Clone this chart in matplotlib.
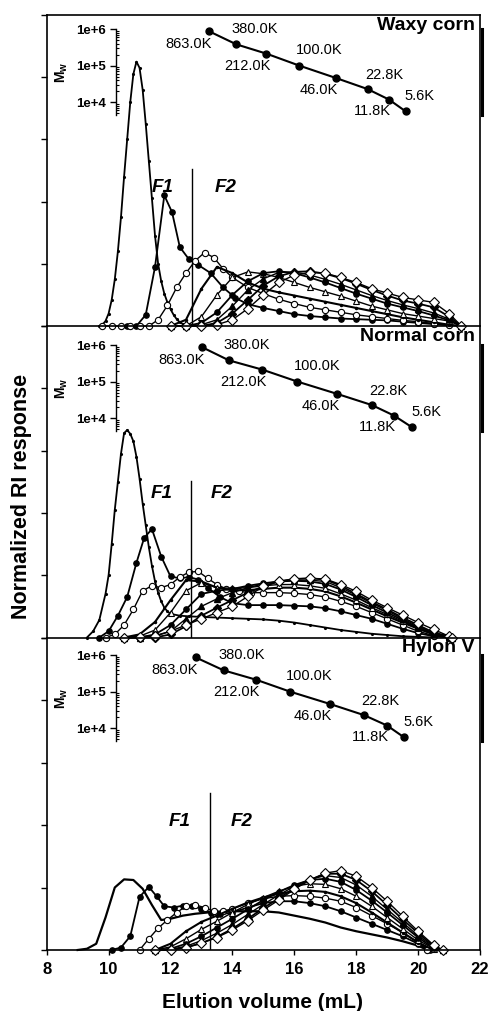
import matplotlib
matplotlib.use("Agg")
import matplotlib.pyplot as plt
from matplotlib.ticker import LogLocator, FixedLocator, NullFormatter

plt.rcParams['font.family'] = ['Liberation Sans', 'DejaVu Sans']
plt.rcParams['mathtext.fontset'] = 'custom'
plt.rcParams['mathtext.rm'] = 'Liberation Sans'
plt.rcParams['mathtext.bf'] = 'Liberation Sans:bold'

# ---------------- data ----------------
panel_names = ['Waxy corn', 'Normal corn', 'Hylon V']

mw_values = [863000, 380000, 212000, 100000, 46000, 22800, 11800, 5600]
mw_labels = ['863.0K', '380.0K', '212.0K', '100.0K', '46.0K', '22.8K', '11.8K', '5.6K']
waxy_cal_x = [13.25, 14.13, 15.10, 16.16, 17.34, 18.37, 19.06, 19.60]
normal_cal_x = [13.03, 13.89, 14.97, 16.10, 17.39, 18.51, 19.22, 19.81]
hylon_cal_x = [12.81, 13.72, 14.76, 15.86, 17.15, 18.25, 19.00, 19.55]

fraction_cut = [12.70, 12.65, 13.28]

# Waxy corn
waxy_a_x = [9.7, 9.8, 9.9, 10.0, 10.1, 10.2, 10.3, 10.4, 10.5, 10.6, 10.7, 10.8, 10.9, 11.0, 11.1,
            11.2, 11.3, 11.4, 11.5, 11.6, 11.7, 11.8, 11.9, 12.0, 12.1, 12.2, 12.3, 12.4, 12.5, 12.6]
waxy_a_y = [0.0, 0.02, 0.08, 0.2, 0.42, 0.75, 1.2, 1.75, 2.4, 3.0, 3.6, 4.05, 4.25, 4.15, 3.8,
            3.25, 2.65, 2.05, 1.45, 1.0, 0.72, 0.52, 0.38, 0.27, 0.18, 0.11, 0.06, 0.03, 0.01, 0.0]
waxy_b_x = [10.6, 10.9, 11.2, 11.5, 11.8, 12.05, 12.3, 12.6, 12.9, 13.3, 13.7, 14.1, 14.5, 15.0, 15.5,
            16.0, 16.5, 17.0, 17.5, 18.0, 18.5, 19.0, 19.5, 20.0, 20.5, 21.0]
waxy_b_y = [0.0, 0.0, 0.18, 0.95, 2.1, 1.83, 1.27, 1.07, 0.98, 0.85, 0.62, 0.45, 0.35, 0.29, 0.24,
            0.19, 0.16, 0.14, 0.12, 0.11, 0.1, 0.09, 0.07, 0.05, 0.03, 0.01]
waxy_c_x = [9.8, 10.1, 10.4, 10.7, 11.0, 11.3, 11.6, 11.9, 12.2, 12.5, 12.8, 13.1, 13.4, 13.7, 14.0,
            14.5, 15.0, 15.5, 16.0, 16.5, 17.0, 17.5, 18.0, 18.5, 19.0, 19.5, 20.0, 20.5, 21.0]
waxy_c_y = [0, 0, 0, 0, 0, 0, 0.1, 0.33, 0.62, 0.85, 1.05, 1.18, 1.1, 0.92, 0.78,
            0.62, 0.52, 0.43, 0.36, 0.3, 0.26, 0.22, 0.18, 0.15, 0.12, 0.09, 0.07, 0.04, 0.01]
waxy_grid = [12.0, 12.5, 13.0, 13.5, 14.0, 14.5, 15.0, 15.5, 16.0, 16.5, 17.0, 17.5, 18.0, 18.5,
             19.0, 19.5, 20.0, 20.5, 21.0, 21.4]
waxy_d = [0, 0.1, 0.6, 0.95, 0.85, 0.7, 0.6, 0.54, 0.49, 0.44, 0.39, 0.34, 0.29, 0.24, 0.19, 0.14, 0.1, 0.06, 0.02, 0]
waxy_e = [0, 0, 0.15, 0.5, 0.78, 0.87, 0.84, 0.78, 0.7, 0.62, 0.55, 0.48, 0.4, 0.32, 0.26, 0.2, 0.16, 0.12, 0.08, 0]
waxy_f = [0, 0, 0.05, 0.22, 0.5, 0.72, 0.85, 0.88, 0.85, 0.78, 0.7, 0.61, 0.52, 0.44, 0.36, 0.3, 0.24, 0.17, 0.09, 0]
waxy_g = [0, 0, 0.02, 0.1, 0.32, 0.58, 0.76, 0.86, 0.87, 0.82, 0.75, 0.67, 0.58, 0.49, 0.41, 0.34, 0.28, 0.21, 0.11, 0]
waxy_h = [0, 0, 0, 0.05, 0.2, 0.42, 0.65, 0.8, 0.87, 0.88, 0.84, 0.77, 0.68, 0.58, 0.49, 0.41, 0.36, 0.3, 0.15, 0]
waxy_i = [0, 0, 0, 0.02, 0.1, 0.28, 0.5, 0.7, 0.82, 0.86, 0.85, 0.78, 0.7, 0.6, 0.53, 0.46, 0.42, 0.38, 0.2, 0]

# Normal corn
normal_a_x = [9.3, 9.5, 9.7, 9.9, 10.0, 10.1, 10.2, 10.3, 10.4, 10.5, 10.6, 10.7, 10.8, 10.9, 11.0,
              11.1, 11.2, 11.3, 11.4, 11.5, 11.6, 11.7, 11.8, 11.9, 12.0, 12.3, 12.6, 13.0, 13.5,
              14.0, 14.5, 15.0, 15.5, 16.0, 16.5, 17.0, 17.5, 18.0, 18.5, 19.0, 19.5, 20.0, 20.5]
normal_a_y = [0, 0.1, 0.28, 0.7, 1.0, 1.5, 2.05, 2.5, 2.95, 3.28, 3.33, 3.27, 3.15, 2.9, 2.55,
              2.15, 1.8, 1.45, 1.15, 0.9, 0.72, 0.58, 0.48, 0.42, 0.38, 0.35, 0.34, 0.33, 0.32,
              0.31, 0.3, 0.29, 0.27, 0.24, 0.2, 0.16, 0.12, 0.09, 0.06, 0.04, 0.02, 0.01, 0]
normal_b_x = [9.7, 10.0, 10.3, 10.6, 10.9, 11.15, 11.4, 11.7, 12.0, 12.3, 12.6, 12.9, 13.2, 13.6, 14.0,
              14.5, 15.0, 15.5, 16.0, 16.5, 17.0, 17.5, 18.0, 18.5, 19.0, 19.5, 20.0, 20.5, 21.0]
normal_b_y = [0, 0.1, 0.35, 0.65, 1.2, 1.6, 1.74, 1.3, 0.98, 0.95, 0.97, 0.93, 0.8, 0.65, 0.55,
              0.52, 0.52, 0.52, 0.51, 0.5, 0.47, 0.42, 0.36, 0.3, 0.22, 0.14, 0.07, 0.02, 0]
normal_c_x = [9.9, 10.2, 10.5, 10.8, 11.1, 11.4, 11.7, 12.0, 12.3, 12.6, 12.9, 13.2, 13.5, 13.8, 14.2,
              14.6, 15.0, 15.5, 16.0, 16.5, 17.0, 17.5, 18.0, 18.5, 19.0, 19.5, 20.0, 20.5, 21.0]
normal_c_y = [0, 0.05, 0.2, 0.45, 0.75, 0.83, 0.8, 0.85, 0.97, 1.05, 1.06, 0.95, 0.85, 0.78, 0.74,
              0.72, 0.72, 0.72, 0.71, 0.69, 0.65, 0.58, 0.5, 0.4, 0.3, 0.2, 0.1, 0.03, 0]
normal_grid = [10.5, 11.0, 11.5, 12.0, 12.5, 13.0, 13.5, 14.0, 14.5, 15.0, 15.5, 16.0, 16.5, 17.0,
               17.5, 18.0, 18.5, 19.0, 19.5, 20.0, 20.5, 21.0, 21.1]
normal_d = [0, 0.05, 0.25, 0.6, 0.92, 0.9, 0.8, 0.76, 0.76, 0.78, 0.8, 0.8, 0.78, 0.74, 0.66, 0.56, 0.45, 0.34, 0.24, 0.14, 0.05, 0, 0]
normal_e = [0, 0.02, 0.12, 0.4, 0.75, 0.88, 0.8, 0.79, 0.8, 0.83, 0.85, 0.85, 0.83, 0.79, 0.7, 0.6, 0.48, 0.37, 0.26, 0.15, 0.06, 0, 0]
normal_f = [0, 0, 0.05, 0.2, 0.45, 0.7, 0.75, 0.78, 0.83, 0.87, 0.9, 0.91, 0.9, 0.86, 0.77, 0.65, 0.52, 0.4, 0.28, 0.16, 0.06, 0, 0]
normal_g = [0, 0, 0.02, 0.1, 0.3, 0.5, 0.62, 0.72, 0.8, 0.86, 0.9, 0.92, 0.92, 0.9, 0.8, 0.68, 0.55, 0.43, 0.3, 0.18, 0.07, 0.01, 0]
normal_h = [0, 0, 0, 0.05, 0.18, 0.35, 0.48, 0.6, 0.72, 0.82, 0.9, 0.94, 0.95, 0.93, 0.83, 0.7, 0.57, 0.45, 0.32, 0.2, 0.08, 0.02, 0]
normal_i = [0, 0.01, 0.03, 0.1, 0.2, 0.3, 0.4, 0.5, 0.66, 0.82, 0.9, 0.94, 0.95, 0.94, 0.85, 0.74, 0.6, 0.48, 0.36, 0.24, 0.13, 0.02, 0]

# Hylon V
hylon_a_x = [9.0, 9.3, 9.6, 9.9, 10.2, 10.5, 10.8, 11.1, 11.4, 11.7, 12.0, 12.4, 12.8, 13.2, 13.6,
             14.0, 14.5, 15.0, 15.5, 16.0, 16.5, 17.0, 17.5, 18.0, 18.5, 19.0, 19.5, 20.0, 20.3]
hylon_a_y = [0, 0.02, 0.1, 0.52, 1.0, 1.13, 1.12, 0.98, 0.72, 0.48, 0.5, 0.55, 0.58, 0.6, 0.61,
             0.62, 0.62, 0.62, 0.6, 0.55, 0.5, 0.44, 0.36, 0.3, 0.25, 0.2, 0.14, 0.07, 0]
hylon_b_x = [10.1, 10.4, 10.7, 11.0, 11.3, 11.55, 11.8, 12.1, 12.4, 12.7, 13.0, 13.3, 13.6, 14.0,
             14.5, 15.0, 15.5, 16.0, 16.5, 17.0, 17.5, 18.0, 18.5, 19.0, 19.5, 20.0, 20.4]
hylon_b_y = [0, 0.04, 0.22, 0.85, 1.01, 0.86, 0.7, 0.68, 0.71, 0.71, 0.66, 0.6, 0.57, 0.6,
             0.68, 0.75, 0.78, 0.78, 0.75, 0.7, 0.62, 0.52, 0.42, 0.32, 0.22, 0.1, 0]
hylon_c_x = [11.0, 11.3, 11.6, 11.9, 12.2, 12.5, 12.8, 13.1, 13.4, 13.7, 14.0, 14.5, 15.0, 15.5,
             16.0, 16.5, 17.0, 17.5, 18.0, 18.5, 19.0, 19.5, 20.0, 20.3]
hylon_c_y = [0, 0.18, 0.35, 0.48, 0.6, 0.7, 0.72, 0.68, 0.62, 0.62, 0.66, 0.75, 0.82, 0.86,
             0.87, 0.86, 0.83, 0.78, 0.68, 0.55, 0.42, 0.28, 0.12, 0]
hylon_grid = [11.5, 12.0, 12.5, 13.0, 13.5, 14.0, 14.5, 15.0, 15.5, 16.0, 16.5, 17.0, 17.5, 18.0,
              18.5, 19.0, 19.5, 20.0, 20.5, 20.8]
hylon_d = [0, 0.1, 0.3, 0.45, 0.55, 0.66, 0.76, 0.84, 0.9, 0.94, 0.95, 0.93, 0.86, 0.75, 0.6, 0.44, 0.28, 0.12, 0, 0]
hylon_e = [0, 0.05, 0.18, 0.33, 0.46, 0.6, 0.73, 0.84, 0.94, 1.02, 1.06, 1.05, 0.98, 0.86, 0.7, 0.52, 0.34, 0.16, 0.02, 0]
hylon_f = [0, 0.02, 0.1, 0.22, 0.36, 0.5, 0.65, 0.8, 0.93, 1.04, 1.12, 1.14, 1.09, 0.96, 0.79, 0.6, 0.4, 0.2, 0.03, 0]
hylon_g = [0, 0.01, 0.06, 0.15, 0.27, 0.41, 0.57, 0.73, 0.88, 1.02, 1.13, 1.19, 1.16, 1.04, 0.86, 0.65, 0.44, 0.23, 0.05, 0]
hylon_h = [0, 0, 0.04, 0.11, 0.21, 0.34, 0.5, 0.67, 0.83, 0.99, 1.12, 1.22, 1.22, 1.12, 0.94, 0.72, 0.49, 0.27, 0.06, 0]
hylon_i = [0, 0, 0.04, 0.11, 0.2, 0.32, 0.47, 0.64, 0.8, 0.97, 1.12, 1.23, 1.27, 1.18, 1.0, 0.78, 0.54, 0.3, 0.08, 0]

x_ticks = [8, 10, 12, 14, 16, 18, 20, 22]

# ---------------- styles ----------------
S_A = dict(color='k', lw=1.3, marker='.', ms=2.5)
S_B = dict(color='k', lw=1.3, marker='o', ms=3.8, mfc='k', mec='k')
S_C = dict(color='k', lw=1.0, marker='o', ms=4.5, mfc='white', mec='k', mew=0.8)
S_D = dict(color='k', lw=1.5, marker='.', ms=3)
S_E = dict(color='k', lw=1.0, marker='^', ms=4.8, mfc='white', mec='k', mew=0.8)
S_F = dict(color='k', lw=1.3, marker='o', ms=3.8, mfc='k', mec='k')
S_G = dict(color='k', lw=1.0, marker='^', ms=4.2, mfc='k', mec='k')
S_H = dict(color='k', lw=1.3, marker='D', ms=3.6, mfc='k', mec='k')
S_I = dict(color='k', lw=1.0, marker='D', ms=4.6, mfc='white', mec='k', mew=0.8)

panels = [
    dict(curves=[(waxy_a_x, waxy_a_y, S_A), (waxy_b_x, waxy_b_y, S_B), (waxy_c_x, waxy_c_y, S_C),
                 (waxy_grid, waxy_d, S_D), (waxy_grid, waxy_e, S_E), (waxy_grid, waxy_f, S_F),
                 (waxy_grid, waxy_g, S_G), (waxy_grid, waxy_h, S_H), (waxy_grid, waxy_i, S_I)],
         cal=waxy_cal_x, y=(15, 326), inset=(29, 115), f1=(11.76, 2.22), f2=(13.79, 2.22)),
    dict(curves=[(normal_a_x, normal_a_y, S_A), (normal_b_x, normal_b_y, S_B), (normal_c_x, normal_c_y, S_C),
                 (normal_grid, normal_d, S_D), (normal_grid, normal_e, S_E), (normal_grid, normal_f, S_F),
                 (normal_grid, normal_g, S_G), (normal_grid, normal_h, S_H), (normal_grid, normal_i, S_I)],
         cal=normal_cal_x, y=(326, 637.5), inset=(345, 431), f1=(11.72, 2.31), f2=(13.66, 2.31)),
    dict(curves=[(hylon_a_x, hylon_a_y, dict(color='k', lw=1.6)), (hylon_b_x, hylon_b_y, S_B),
                 (hylon_c_x, hylon_c_y, S_C),
                 (hylon_grid, hylon_d, S_D), (hylon_grid, hylon_e, S_E), (hylon_grid, hylon_f, S_F),
                 (hylon_grid, hylon_g, S_G), (hylon_grid, hylon_h, S_H), (hylon_grid, hylon_i, S_I)],
         cal=hylon_cal_x, y=(637.5, 950), inset=(655, 741), f1=(12.31, 2.06), f2=(14.31, 2.06)),
]

label_offsets = [(-15, -9), (13, 11), (-14, -9), (14, 11), (-12, -9), (12, 10), (-12, -8), (10, 11)]

W, H = 491, 1011
X0, X1 = 46.7, 480.0
XMIN, XMAX = 8, 22


def rect(x0, y0, x1, y1):
    return [x0 / W, 1 - y1 / H, (x1 - x0) / W, (y1 - y0) / H]


def px_to_data_x(px):
    return XMIN + (px - X0) / (X1 - X0) * (XMAX - XMIN)


fig = plt.figure(figsize=(W / 100, H / 100), dpi=100)

for k, p in enumerate(panels):
    ya, yb = p['y']
    ax = fig.add_axes(rect(X0, ya, X1, yb))
    ax.set_xlim(XMIN, XMAX)
    ax.set_ylim(0, 5)
    for xs, ys, st in p['curves']:
        ax.plot(xs, ys, clip_on=False, **st)
    ax.plot([fraction_cut[k], fraction_cut[k]], [0, 2.52], color='k', lw=1.0)
    ax.text(p['f1'][0], p['f1'][1], 'F1', fontsize=13.5, fontweight='bold', fontstyle='italic',
            ha='center', va='center')
    ax.text(p['f2'][0], p['f2'][1], 'F2', fontsize=13.5, fontweight='bold', fontstyle='italic',
            ha='center', va='center')
    ax.set_yticks([0, 1, 2, 3, 4, 5])
    ax.set_yticklabels([])
    ax.tick_params(axis='y', direction='out', length=4, width=1.0)
    for s in ['left', 'right', 'bottom', 'top']:
        ax.spines[s].set_linewidth(1.2)
        ax.spines[s].set_color('black')
        ax.spines[s].set_zorder(5)
    if k < 2:
        ax.set_xticks([])
    else:
        ax.set_xticks(x_ticks)
        ax.set_xticklabels([str(t) for t in x_ticks], fontsize=12, fontweight='bold')
        ax.tick_params(axis='x', direction='out', length=3.5, width=1.0, pad=5)
    if k > 0:
        ax.spines['top'].set_visible(False)
    ax.patch.set_visible(False)

    # panel name
    fig.text(475 / W, 1 - (ya + 2) / H, panel_names[k], fontsize=14, fontweight='bold',
             ha='right', va='top')

    # inset calibration
    ia, ib = p['inset']
    axi = fig.add_axes(rect(116, ia, 482, ib))
    axi.patch.set_visible(False)
    axi.set_xlim(px_to_data_x(116), px_to_data_x(482))
    axi.set_yscale('log')
    axi.set_ylim(10 ** (4 - (ib - (ia + 2 * 36.6)) / 36.6), 1e6)
    axi.plot(p['cal'], mw_values, color='k', lw=1.5, marker='o', ms=5, clip_on=False)
    for j, lab in enumerate(mw_labels):
        axi.annotate(lab, (p['cal'][j], mw_values[j]), xytext=label_offsets[j],
                     textcoords='offset points', ha='center', va='center', fontsize=10.5)
    axi.spines['top'].set_visible(False)
    axi.spines['bottom'].set_visible(False)
    axi.spines['left'].set_linewidth(1.0)
    axi.spines['right'].set_linewidth(2.2)
    axi.set_xticks([])
    axi.yaxis.set_major_locator(FixedLocator([1e4, 1e5, 1e6]))
    axi.set_yticklabels(['1e+4', '1e+5', '1e+6'], fontsize=9.5, fontweight='bold')
    axi.yaxis.set_minor_locator(LogLocator(base=10, subs=[2, 3, 4, 5, 6, 7, 8, 9]))
    axi.yaxis.set_minor_formatter(NullFormatter())
    axi.tick_params(axis='y', which='major', direction='out', length=4, width=1.0, pad=3)
    axi.tick_params(axis='y', which='minor', direction='in', length=2.2, width=0.8)
    fig.text(61.7 / W, 1 - (ia + 2 * 36.6 - 30) / H, r'$\mathbf{M_w}$', fontsize=10,
             rotation=90, ha='center', va='center')

fig.text(22 / W, 1 - 496.5 / H, 'Normalized RI response', fontsize=15.5, fontweight='bold',
         rotation=90, ha='center', va='center')
fig.text(263 / W, 1 - 993 / H, 'Elution volume (mL)', fontsize=15, fontweight='bold',
         ha='center', va='top')

fig.savefig('out.png', dpi=100)
